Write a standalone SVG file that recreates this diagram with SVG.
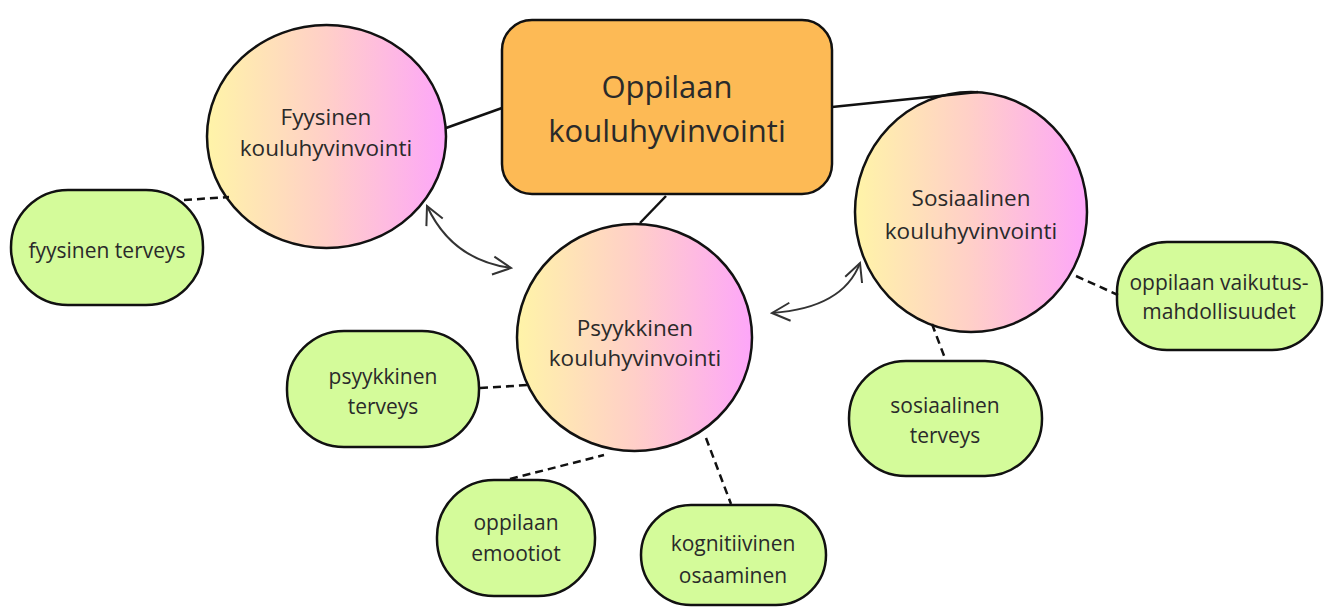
<svg xmlns="http://www.w3.org/2000/svg" width="1333" height="610" viewBox="0 0 1333 610">
<defs>
<linearGradient id="g" x1="0" y1="0" x2="1" y2="0">
<stop offset="0" stop-color="#FFF4A8"/>
<stop offset="0.5" stop-color="#FFCFC8"/>
<stop offset="1" stop-color="#FDA6F9"/>
</linearGradient>
<marker id="ar" viewBox="0 0 22 22" refX="20" refY="11" markerWidth="22" markerHeight="22" markerUnits="userSpaceOnUse" orient="auto-start-reverse">
<path d="M2,2 L20,11 L2,20" fill="none" stroke="#333" stroke-width="2"/>
</marker>
<style>
.c{fill:url(#g);stroke:#111;stroke-width:2.5}
.b{fill:#D4FB9A;stroke:#111;stroke-width:2.5}
.m{fill:#FDBA55;stroke:#111;stroke-width:2.5}
text{font-family:"Open Sans","Noto Sans",sans-serif;fill:#2a2a2a;text-anchor:middle}
.t1{font-size:31px}
.t2{font-size:22.5px}
.t3{font-size:21px}
.s{stroke:#111;stroke-width:2.5;fill:none}
.d{stroke:#111;stroke-width:2.5;fill:none;stroke-dasharray:8 5}
.a{stroke:#333;stroke-width:2;fill:none;marker-start:url(#ar);marker-end:url(#ar)}
</style>
</defs>
<g id="fyysinen">
<ellipse class="c" cx="326.5" cy="136.5" rx="119.5" ry="111.5"/>
<text class="t2" x="326" y="125">Fyysinen</text>
<text class="t2" x="326" y="156">kouluhyvinvointi</text>
</g>
<g id="oppilaan">
<rect class="m" x="502" y="20" width="330" height="174" rx="30"/>
<text class="t1" x="667" y="98">Oppilaan</text>
<text class="t1" x="667" y="142">kouluhyvinvointi</text>
</g>
<g id="sosiaalinen">
<ellipse class="c" cx="971" cy="212" rx="116" ry="120"/>
<text class="t2" x="971" y="206">Sosiaalinen</text>
<text class="t2" x="971" y="239">kouluhyvinvointi</text>
</g>
<g id="psyykkinen">
<ellipse class="c" cx="634.5" cy="337.5" rx="117.5" ry="113.5"/>
<text class="t2" x="635" y="336">Psyykkinen</text>
<text class="t2" x="635" y="366">kouluhyvinvointi</text>
</g>
<g id="fyysinen-terveys">
<rect class="b" x="11" y="190" width="192" height="115" rx="57"/>
<text class="t3" x="107" y="258">fyysinen terveys</text>
</g>
<g id="psyykkinen-terveys">
<rect class="b" x="287" y="331" width="192" height="116" rx="57"/>
<text class="t3" x="383" y="384">psyykkinen</text>
<text class="t3" x="383" y="414">terveys</text>
</g>
<g id="emootiot">
<rect class="b" x="437" y="480" width="158" height="116" rx="57"/>
<text class="t3" x="516" y="530">oppilaan</text>
<text class="t3" x="516" y="561">emootiot</text>
</g>
<g id="kognitiivinen">
<rect class="b" x="641" y="505" width="185" height="100" rx="50"/>
<text class="t3" x="733" y="551">kognitiivinen</text>
<text class="t3" x="733" y="583">osaaminen</text>
</g>
<g id="sosiaalinen-terveys">
<rect class="b" x="849" y="361" width="193" height="115" rx="57"/>
<text class="t3" x="945" y="413">sosiaalinen</text>
<text class="t3" x="945" y="443">terveys</text>
</g>
<g id="vaikutus">
<rect class="b" x="1117" y="242" width="205" height="108" rx="50"/>
<text class="t3" x="1219" y="290">oppilaan vaikutus-</text>
<text class="t3" x="1219" y="319">mahdollisuudet</text>
</g>
<g id="connectors">
<line class="s" x1="446" y1="128" x2="502" y2="108"/>
<line class="s" x1="832" y1="107" x2="978" y2="92"/>
<line class="s" x1="666" y1="196" x2="640" y2="223"/>
<line class="d" x1="184" y1="200" x2="229" y2="197"/>
<line class="d" x1="480" y1="388" x2="528" y2="385"/>
<line class="d" x1="510" y1="479" x2="604" y2="455"/>
<line class="d" x1="706" y1="438" x2="731" y2="504"/>
<line class="d" x1="932" y1="324" x2="946" y2="361"/>
<line class="d" x1="1076" y1="276" x2="1118" y2="295"/>
<path class="a" d="M427,206 Q452,260 511,268"/>
<path class="a" d="M772,313 Q843,308 860,263"/>
</g>
</svg>
